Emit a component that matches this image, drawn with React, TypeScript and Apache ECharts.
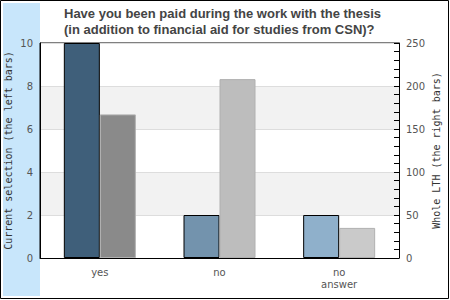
import React, { useEffect, useRef } from "react";
import * as echarts from "echarts";

const titleLines = [
  "Have you been paid during the work with the thesis",
  "(in addition to financial aid for studies from CSN)?",
];
const categories = ["yes", "no", "no\nanswer"];
const currentSelection = [10, 2, 2];
const wholeLTH = [167, 208, 35];
const leftColors = ["#3f5f7a", "#7393ad", "#8fb0cb"];
const rightColors = ["#8a8a8a", "#bdbdbd", "#cacaca"];
const leftTicks = { min: 0, max: 10, interval: 2 };
const rightTicks = { min: 0, max: 250, interval: 50 };
const leftName = "Current selection (the left bars)";
const rightName = "Whole LTH (the right bars)";

export default function App() {
  const ref = useRef<HTMLDivElement>(null);
  useEffect(() => {
    if (!ref.current) return;
    const chart = echarts.init(ref.current, null, { renderer: "svg" });
    chart.setOption({
      animation: false,
      backgroundColor: "#fff",
      graphic: [
        {
          type: "rect",
          z: -10,
          shape: { x: 0.5, y: 0.5, width: 448, height: 298 },
          style: { fill: "#fff", stroke: "#000", lineWidth: 1 },
        },
        {
          type: "rect",
          z: -9,
          shape: { x: 3, y: 3, width: 37, height: 293 },
          style: { fill: "#c8e6fb" },
        },
      ],
      title: {
        text: titleLines.join("\n"),
        left: 64,
        top: 5,
        padding: 0,
        textStyle: {
          fontFamily: "Liberation Sans",
          fontSize: 13,
          fontWeight: "bold",
          color: "#444",
          lineHeight: 16,
        },
      },
      grid: {
        left: 40,
        right: 51,
        top: 43,
        bottom: 42,
        outerBoundsMode: "none",
        containLabel: false,
        show: true,
        borderColor: "#000",
        borderWidth: 1,
        backgroundColor: "transparent",
      },
      xAxis: {
        type: "category",
        data: categories,
        axisLine: { show: true, lineStyle: { color: "#000", width: 1 } },
        axisTick: { show: false },
        axisLabel: {
          margin: 8,
          color: "#555",
          fontFamily: "DejaVu Sans",
          fontSize: 10,
          lineHeight: 12,
        },
      },
      yAxis: [
        {
          type: "value",
          position: "left",
          min: leftTicks.min,
          max: leftTicks.max,
          interval: leftTicks.interval,
          name: leftName,
          nameLocation: "middle",
          nameRotate: 90,
          nameGap: 27,
          nameMoveOverlap: false,
          nameTextStyle: { fontFamily: "DejaVu Sans Mono", fontSize: 10, color: "#333" },
          axisLine: { show: true, lineStyle: { color: "#000" } },
          axisTick: { show: false },
          axisLabel: { margin: 7, color: "#555", fontFamily: "DejaVu Sans", fontSize: 10 },
          splitLine: { show: true, lineStyle: { color: "#ddd", width: 1 } },
          splitArea: { show: true, areaStyle: { color: ["#ffffff", "#f2f2f2"] } },
        },
        {
          type: "value",
          position: "right",
          min: rightTicks.min,
          max: rightTicks.max,
          interval: rightTicks.interval,
          name: rightName,
          nameLocation: "middle",
          nameRotate: 90,
          nameGap: 32,
          nameMoveOverlap: false,
          nameTextStyle: { fontFamily: "DejaVu Sans Mono", fontSize: 10, color: "#333" },
          axisLine: { show: true, lineStyle: { color: "#000" } },
          axisTick: { show: true, inside: true, length: 5, lineStyle: { color: "#000" } },
          minorTick: { show: true, splitNumber: 5, length: 5, lineStyle: { color: "#000" } },
          axisLabel: { margin: 7, color: "#555", fontFamily: "DejaVu Sans", fontSize: 10 },
          splitLine: { show: false },
        },
      ],
      series: [
        {
          type: "bar",
          yAxisIndex: 0,
          barWidth: 36,
          barGap: "0%",
          data: currentSelection.map((v, i) => ({
            value: v,
            itemStyle: { color: leftColors[i], borderColor: "#000", borderWidth: 1 },
          })),
        },
        {
          type: "bar",
          yAxisIndex: 1,
          barWidth: 36,
          barGap: "0%",
          data: wholeLTH.map((v, i) => ({
            value: v,
            itemStyle: { color: rightColors[i], borderColor: "#b0b0b0", borderWidth: 1 },
          })),
        },
      ],
    });
    return () => chart.dispose();
  }, []);
  return <div ref={ref} style={{ width: 450, height: 300, position: "fixed", left: 0, top: 0 }} />;
}
